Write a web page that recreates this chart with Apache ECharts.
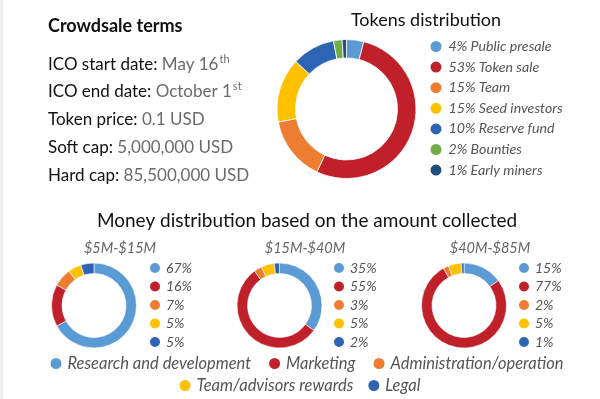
<!DOCTYPE html>
<html>
<head>
<meta charset="utf-8">
<script src="https://cdn.jsdelivr.net/npm/echarts@6/dist/echarts.min.js"></script>
<style>
html,body{margin:0;padding:0;background:#fff;}
#c{width:600px;height:399px;position:relative;}
#edge{position:absolute;left:0;top:0;width:3px;height:399px;background:#eeeeee;z-index:2;}
</style>
</head>
<body>
<div id="c"></div>
<div id="edge"></div>
<script>
var FONT = 'Lato';

// Crowdsale terms
var termLabels = ['ICO start date: ', 'ICO end date: ', 'Token price: ', 'Soft cap: ', 'Hard cap: '];
var termValues = ['May 16', 'October 1', '0.1 USD', '5,000,000 USD', '85,500,000 USD'];
var termSup = ['th', 'st', '', '', ''];

// Tokens distribution
var tokenNames = ['Public presale', 'Token sale', 'Team', 'Seed investors', 'Reserve fund', 'Bounties', 'Early miners'];
var tokenValues = [4, 53, 15, 15, 10, 2, 1];
var tokenColors = ['#5b9bd5', '#c0202a', '#ed7d31', '#ffc000', '#2e64b4', '#70ad47', '#1f4e79'];

// Money distribution
var moneyNames = ['Research and development', 'Marketing', 'Administration/operation', 'Team/advisors rewards', 'Legal'];
var moneyColors = ['#5b9bd5', '#c0202a', '#ed7d31', '#ffc000', '#2e64b4'];
var rangeLabels = ['$5M-$15M', '$15M-$40M', '$40M-$85M'];
var money1 = [67, 16, 7, 5, 5];
var money2 = [35, 55, 3, 5, 2];
var money3 = [15, 77, 2, 5, 1];
var moneySets = [money1, money2, money3];

var chart = echarts.init(document.getElementById('c'), null, {renderer: 'canvas'});

var graphics = [];
graphics.push({type: 'text', x: 48, y: 26, style: {text: 'Crowdsale terms', font: 'bold 18px Lato', fill: '#111', textVerticalAlign: 'middle'}});
var termY = [62, 89, 117, 145, 173];
termLabels.forEach(function (lab, i) {
  var t = '{k|' + lab + '}{v|' + termValues[i] + '}' + (termSup[i] ? '{s|' + termSup[i] + '}' : '');
  graphics.push({type: 'text', x: 48, y: termY[i], style: {
    text: t, textVerticalAlign: 'middle',
    rich: {
      k: {fontFamily: FONT, fontSize: 17, fill: '#111', lineHeight: 22, verticalAlign: 'bottom'},
      v: {fontFamily: FONT, fontSize: 17, fill: '#6b6b6b', lineHeight: 22, verticalAlign: 'bottom'},
      s: {fontFamily: FONT, fontSize: 11, fill: '#6b6b6b', lineHeight: 11, verticalAlign: 'bottom', padding: [0, 0, 8, 1]}
    }
  }});
});
graphics.push({type: 'text', x: 426, y: 20, style: {text: 'Tokens distribution', fontFamily: FONT, fontSize: 18, fill: '#111', textAlign: 'center', textVerticalAlign: 'middle'}});
graphics.push({type: 'text', x: 307, y: 221, style: {text: 'Money distribution based on the amount collected', fontFamily: FONT, fontSize: 19, fill: '#111', textAlign: 'center', textVerticalAlign: 'middle'}});
var subX = [120, 305, 490];
rangeLabels.forEach(function (r, i) {
  graphics.push({type: 'text', x: subX[i], y: 248, style: {text: r, fontFamily: FONT, fontStyle: 'italic', fontSize: 14.5, fill: '#666', textAlign: 'center', textVerticalAlign: 'middle'}});
});

var series = [];
series.push({
  type: 'pie', center: [346.5, 109], radius: [51, 69.5], startAngle: 90, clockwise: true,
  label: {show: false}, labelLine: {show: false}, silent: true,
  itemStyle: {borderColor: '#fff', borderWidth: 0.8},
  data: tokenNames.map(function (n, i) { return {name: n, value: tokenValues[i], itemStyle: {color: tokenColors[i]}}; })
});
var donutX = [94, 279.5, 464];
moneySets.forEach(function (vals, k) {
  series.push({
    type: 'pie', center: [donutX[k], 305.5], radius: [32, 42.5], startAngle: 90, clockwise: true,
    label: {show: false}, labelLine: {show: false}, silent: true,
    itemStyle: {borderColor: '#fff', borderWidth: 0.6},
    data: moneyNames.map(function (n, i) { return {name: n, value: vals[i], itemStyle: {color: moneyColors[i]}}; })
  });
});

var legends = [];
legends.push({
  orient: 'vertical', left: 428.5, top: 38.5, padding: 0, itemGap: 4.6,
  itemWidth: 13, itemHeight: 13, icon: 'circle', selectedMode: false,
  data: tokenNames,
  formatter: function (name) { return tokenValues[tokenNames.indexOf(name)] + '% ' + name; },
  textStyle: {fontFamily: FONT, fontStyle: 'italic', fontSize: 14.2, color: '#555', lineHeight: 16, padding: [0, 0, 0, 1]}
});
var legX = [148, 332, 517];
moneySets.forEach(function (vals, k) {
  legends.push({
    orient: 'vertical', left: legX[k], top: 261, padding: 0, itemGap: 4.5,
    itemWidth: 12, itemHeight: 12, icon: 'circle', selectedMode: false,
    data: moneyNames,
    formatter: function (name) { return vals[moneyNames.indexOf(name)] + '%'; },
    textStyle: {fontFamily: FONT, fontStyle: 'italic', fontSize: 14, color: '#555', lineHeight: 14}
  });
});
legends.push({
  orient: 'horizontal', left: 48.5, top: 355, padding: 0, itemGap: 16,
  itemWidth: 13, itemHeight: 13, icon: 'circle', selectedMode: false,
  data: moneyNames.slice(0, 3),
  textStyle: {fontFamily: FONT, fontStyle: 'italic', fontSize: 16.5, color: '#555', lineHeight: 17}
});
legends.push({
  orient: 'horizontal', left: 177.5, top: 377, padding: 0, itemGap: 13,
  itemWidth: 13, itemHeight: 13, icon: 'circle', selectedMode: false,
  data: moneyNames.slice(3),
  textStyle: {fontFamily: FONT, fontStyle: 'italic', fontSize: 16.5, color: '#555', lineHeight: 17}
});

chart.setOption({
  animation: false,
  backgroundColor: '#fff',
  graphic: graphics,
  legend: legends,
  series: series
});
</script>
</body>
</html>
